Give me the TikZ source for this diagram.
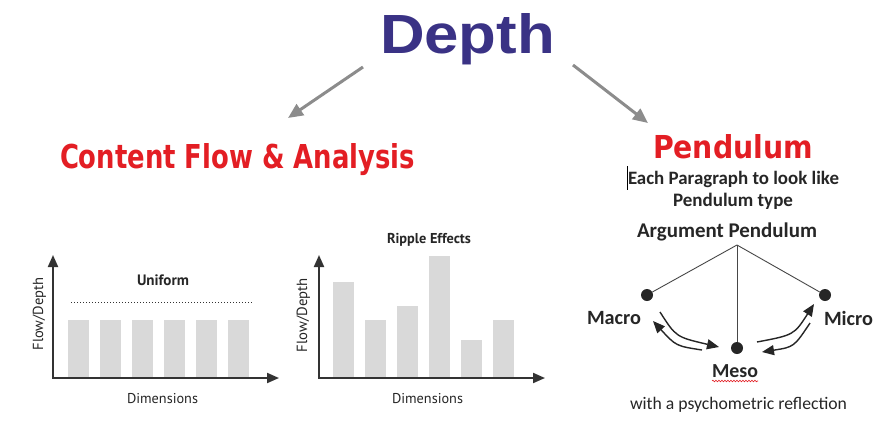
\documentclass[tikz,border=0pt]{standalone}
\usepackage{fontspec}
\setmainfont{Carlito}
\newfontfamily\titlefont{DejaVu Sans}
\newfontfamily\depthfont{Liberation Sans}
\newfontfamily\chartfont{PT Sans}
\usetikzlibrary{arrows.meta,decorations.pathmorphing}
\definecolor{navy}{HTML}{3A3285}
\definecolor{titlered}{HTML}{E31E24}
\definecolor{ink}{HTML}{262626}
\definecolor{arrowgray}{HTML}{8C8C8C}
\definecolor{barfill}{HTML}{D9D9D9}
\definecolor{axisgray}{HTML}{333333}
\newcommand{\fitbox}[3]{\resizebox{#1pt}{#2pt}{#3}}
\newcommand{\fitw}[2]{\resizebox{#1pt}{!}{#2}}
\tikzset{
  txt/.style={inner sep=0pt, outer sep=0pt, anchor=base west, text=ink},
  bigarrow/.style={draw=arrowgray, line width=3pt, -{Triangle[length=15pt,width=13pt]}},
  axisline/.style={draw=axisgray, line width=2pt, {Triangle[length=12pt,width=10pt]}-{Triangle[length=12pt,width=10pt]}},
  bar/.style={fill=barfill},
  ball/.style={circle, fill=ink, minimum size=12pt, inner sep=0pt},
  pline/.style={draw=ink!85, line width=0.9pt},
  swing/.style={draw=ink, line width=1.4pt, -{Triangle[length=12pt,width=10pt]}},
}
\begin{document}
\begin{tikzpicture}[x=1pt,y=-1pt]
\useasboundingbox (0,0) rectangle (889,437);
\fill[white] (0,0) rectangle (889,437);

% Title and main arrows
\node[txt, text=navy] (depth) at (380,53) {\fitbox{175}{40}{\depthfont\bfseries Depth}};
\coordinate (dl) at (363,67);
\coordinate (dlend) at (288,118);
\coordinate (dr) at (573,65);
\coordinate (drend) at (648,123);
\draw[bigarrow] (dl) -- (dlend);
\draw[bigarrow] (dr) -- (drend);

\node[txt, text=titlered] (content) at (60,168) {\fitbox{355}{25}{\titlefont\bfseries Content Flow \& Analysis}};
\node[txt, text=titlered] (pendtitle) at (653,158) {\fitbox{160}{24}{\titlefont\bfseries Pendulum}};

% Chart 1: Uniform
\coordinate (o1) at (53,378);
\coordinate (y1) at (53,255);
\coordinate (x1) at (279,378);
\foreach \a in {68,100,132,164,196,228} {
  \fill[bar] (\a,320) rectangle (\a+21,378);
}
\draw[axisline] (y1) -- (o1) -- (x1);
\draw[axisgray, line width=0.8pt, dash pattern=on 0.8pt off 2.2pt] (71,302) -- (253,302);
\node[txt] (uniform) at (137,285) {\fitw{52}{\chartfont\bfseries Uniform}};
\node[txt] (dim1) at (127,403) {\fitw{71}{\chartfont Dimensions}};
\node[inner sep=0pt, anchor=base, rotate=90, text=ink] (fd1) at (43,314) {\fitw{73}{\chartfont Flow/Depth}};

% Chart 2: Ripple effects
\coordinate (o2) at (319,378);
\coordinate (y2) at (319,255);
\coordinate (x2) at (545,378);
\fill[bar] (333,282) rectangle (354,378);
\fill[bar] (365,320) rectangle (386,378);
\fill[bar] (397,306) rectangle (418,378);
\fill[bar] (429,256) rectangle (450,378);
\fill[bar] (461,340) rectangle (482,378);
\fill[bar] (493,320) rectangle (514,378);
\draw[axisline] (y2) -- (o2) -- (x2);
\node[txt] (ripple) at (387,243) {\fitw{84}{\chartfont\bfseries Ripple Effects}};
\node[txt] (dim2) at (392,403) {\fitw{71}{\chartfont Dimensions}};
\node[inner sep=0pt, anchor=base, rotate=90, text=ink] (fd2) at (307,315) {\fitw{74}{\chartfont Flow/Depth}};

% Pendulum texts
\node[txt] (each) at (628,184) {\fitw{211}{\bfseries Each Paragraph to look like}};
\coordinate (cursortop) at (627,166);
\coordinate (cursorbot) at (627,190);
\draw[black, line width=0.8pt] (cursortop) -- (cursorbot);
\node[txt] (ptype) at (673,206) {\fitw{120}{\bfseries Pendulum type}};
\node[txt] (argp) at (637,237) {\fitw{180}{\bfseries Argument Pendulum}};

% Pendulum
\coordinate (apex) at (737,245);
\node[ball] (macroball) at (647,295) {};
\node[ball] (mesoball) at (737,348) {};
\node[ball] (microball) at (825,295) {};
\draw[pline] (apex) -- (macroball);
\draw[pline] (apex) -- (mesoball);
\draw[pline] (apex) -- (microball);

\node[txt] (macro) at (587,324) {\fitw{54}{\bfseries Macro}};
\node[txt] (micro) at (824,325) {\fitw{49}{\bfseries Micro}};
\node[txt] (meso) at (712,377) {\fitw{46}{\bfseries Meso}};
\coordinate (wl) at (712,381);
\coordinate (wr) at (758,381);
\draw[titlered, line width=0.6pt, decorate, decoration={snake,amplitude=0.8pt,segment length=3pt}] (wl) -- (wr);

% swing arrows
\coordinate (a1s) at (660,312);
\coordinate (a1e) at (719,347);
\coordinate (a2s) at (702,350);
\coordinate (a2e) at (653,321);
\coordinate (a3s) at (757,342);
\coordinate (a3e) at (814,304);
\coordinate (a4s) at (810,323);
\coordinate (a4e) at (762,352);
\draw[swing] (a1s) .. controls (676,337) .. (a1e);
\draw[swing] (a2s) .. controls (676,346) .. (a2e);
\draw[swing] (a3s) .. controls (794,335) .. (a3e);
\draw[swing] (a4s) .. controls (794,347) .. (a4e);

\node[txt] (psy) at (630,409) {\fitw{217}{with a psychometric reflection}};
\end{tikzpicture}
\end{document}
